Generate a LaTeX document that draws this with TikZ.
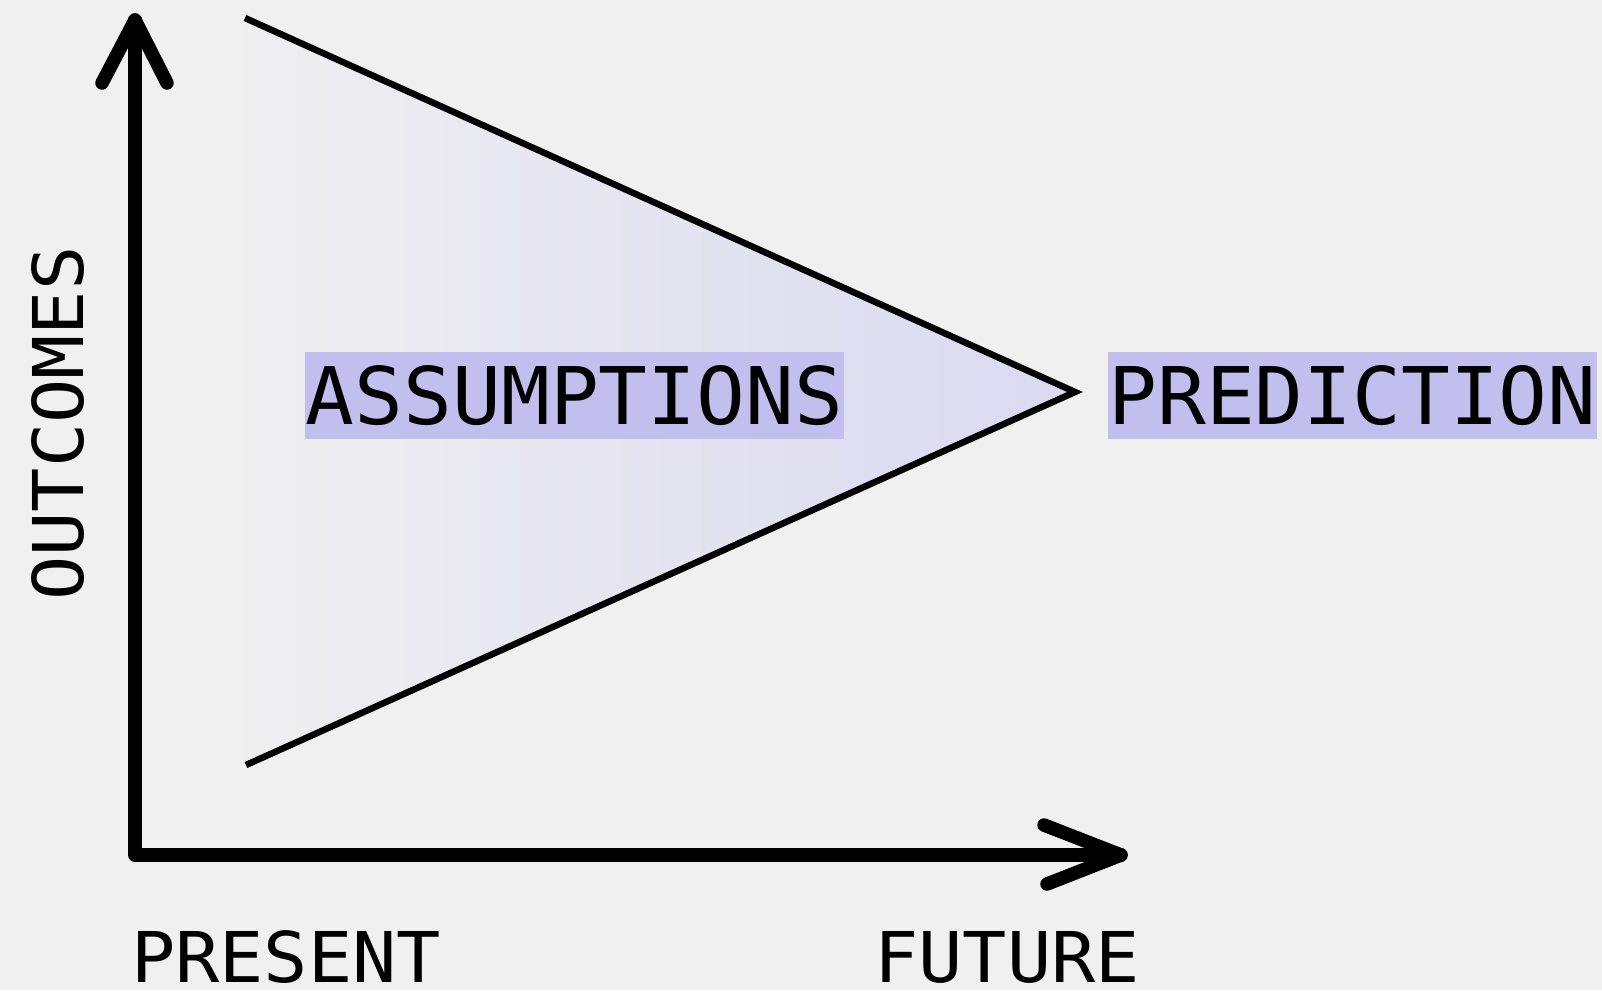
\documentclass[tikz,border=0pt]{standalone}
\usepackage{fontspec}
\newfontfamily\lblfont[FakeStretch=1.05]{DejaVu Sans Mono}
\newfontfamily\keyfont[FakeStretch=1.02]{DejaVu Sans Mono}
\definecolor{bgc}{HTML}{F0F0F0}
\definecolor{lav}{HTML}{C2BFEE}
\definecolor{fanend}{HTML}{D0CEF1}
\pgfdeclarehorizontalshading{fan}{100bp}{color(0bp)=(bgc); color(22bp)=(bgc); color(100bp)=(fanend)}
\tikzset{
  axisline/.style={line width=13.5pt, line cap=round, line join=round, black},
  fanline/.style={line width=6.5pt, line cap=butt, line join=miter, black},
  lbl/.style={font=\lblfont\fontsize{70}{80}\selectfont, inner sep=0pt, text=black},
  keybox/.style={font=\keyfont\fontsize{79.5}{90}\selectfont, fill=lav, inner sep=0pt, minimum height=87pt, text=black},
}
\begin{document}
\begin{tikzpicture}[x=1pt,y=-1pt]
\useasboundingbox (0,0) rectangle (1602,990);
\fill[bgc] (0,0) rectangle (1602,990);
% fan
\coordinate (t1) at (245,18);
\coordinate (apex) at (1075,392);
\coordinate (t2) at (246,765);
\shade[shading=fan] (t1) -- (apex) -- (t2) -- cycle;
\draw[fanline] (t1) -- (apex) -- (t2);
% axes
\coordinate (O) at (135,855);
\coordinate (ytip) at (135,20);
\coordinate (xtip) at (1121,855);
\coordinate (ya1) at (102,83);
\coordinate (ya2) at (167,83);
\coordinate (xa1) at (1044,825);
\coordinate (xa2) at (1047,884);
\draw[axisline] (ytip) -- (O) -- (xtip);
\draw[axisline] (ya1) -- (ytip) -- (ya2);
\draw[axisline] (xa1) -- (xtip) -- (xa2);
% labels
\node[lbl, anchor=base] (present) at (286,982) {PRESENT};
\node[lbl, anchor=base] (future) at (1007,982) {FUTURE};
\node[lbl, anchor=base, rotate=90] (outcomes) at (83,423.5) {OUTCOMES};
\node[keybox, minimum width=539pt] (assume) at (574.5,395.5) {ASSUMPTIONS};
\node[keybox, minimum width=489pt] (predict) at (1352.5,395.5) {PREDICTION};
\end{tikzpicture}
\end{document}
